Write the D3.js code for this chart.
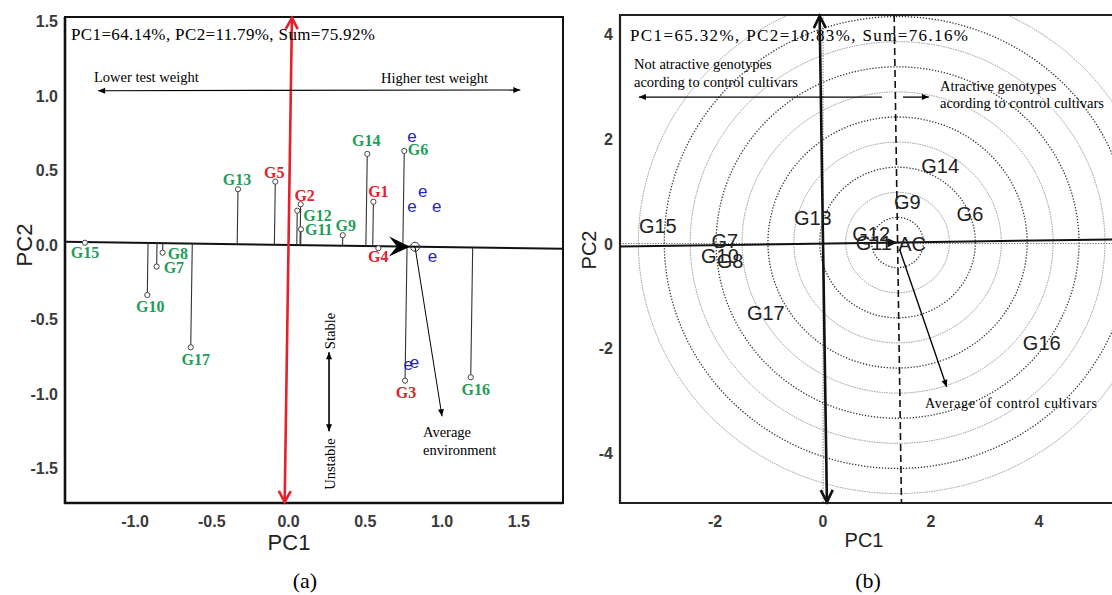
<!DOCTYPE html>
<html>
<head>
<meta charset="utf-8">
<script src="https://cdn.jsdelivr.net/npm/d3@7"></script>
<style>
  body { margin: 0; background: #fff; }
  svg  { display: block; }
</style>
</head>
<body>
<div id="chart"></div>
<script>
// ---- panel (a): mean vs stability ----
var genoA    = ["G1","G2","G3","G4","G5","G6","G7","G8","G9","G10","G11","G12","G13","G14","G15","G16","G17"];
var pc1A     = [0.553, 0.079, 0.759, 0.585, -0.086, 0.754, -0.859, -0.820, 0.353, -0.920, 0.081, 0.057, -0.329, 0.513, -1.326, 1.187, -0.637];
var pc2A     = [0.290, 0.273, -0.911, -0.022, 0.425, 0.631, -0.145, -0.052, 0.065, -0.336, 0.105, 0.230, 0.374, 0.611, 0.015, -0.888, -0.687];
var controlA = ["G1","G2","G3","G4","G5"];   // control cultivars, red labels
var envPC1   = [0.804, 0.874, 0.804, 0.965, 0.937, 0.780, 0.820];
var envPC2   = [0.724, 0.358, 0.257, 0.257, -0.079, -0.805, -0.790];
var avgEnv   = [0.824, -0.012];
var xTicksA  = [-1.0, -0.5, 0.0, 0.5, 1.0, 1.5];
var yTicksA  = [-1.5, -1.0, -0.5, 0.0, 0.5, 1.0, 1.5];

// ---- panel (b): comparison with control cultivars ----
var genoB    = ["G15","G7","G10","G8","G13","G17","G14","G9","G6","G12","G11","G16"];
var pc1B     = [-3.06, -1.82, -1.91, -1.72, -0.19, -1.06, 2.17, 1.56, 2.72, 0.89, 0.94, 4.05];
var pc2B     = [0.34, 0.04, -0.23, -0.34, 0.48, -1.32, 1.49, 0.80, 0.56, 0.19, 0.01, -1.91];
var acPoint  = [1.38, 0.02];
var ringStep = 0.48;
var ringN    = 10;
var xTicksB  = [-2, 0, 2, 4];
var yTicksB  = [-4, -2, 0, 2, 4];

var serif = "'Liberation Serif','Times New Roman',serif";
var sans  = "'Liberation Sans',Arial,sans-serif";
var green = "#1e9e58", red = "#e5202a", blue = "#2424c8";

// label placement for (a): [dx, dy, anchor] in px from the point
var labelPosA = {
	G1: [5,-5,"middle"], G2: [4,-3,"middle"], G3: [1,17,"middle"], G4: [0,14,"middle"],
	G5: [-1,-4,"middle"], G6: [3.5,4.5,"start"], G7: [7,6,"start"], G8: [5,6,"start"],
	G9: [3,-4,"middle"], G10: [3,17,"middle"], G11: [4,6,"start"], G12: [6,10,"start"],
	G13: [-1,-4,"middle"], G14: [-1,-8,"middle"], G15: [0,15,"middle"], G16: [5,18,"middle"],
	G17: [5,18,"middle"]
};

var svg = d3.select("#chart").append("svg")
	.attr("width", 1112)
	.attr("height", 595);

// draw an arrow head at (x1,y1) coming from (x0,y0)
function head(g, x0, y0, x1, y1, len, half, open, color, sw) {
	var a = Math.atan2(y1 - y0, x1 - x0);
	var c = Math.cos(a), s = Math.sin(a);
	var bx = x1 - len * c, by = y1 - len * s;
	var p1 = [bx - half * s, by + half * c], p2 = [bx + half * s, by - half * c];
	var d = "M" + p1 + "L" + x1 + "," + y1 + "L" + p2;
	if (open) {
		g.append("path").attr("d", d).attr("fill", "none")
			.attr("stroke", color).attr("stroke-width", sw || 2);
	} else {
		g.append("path").attr("d", d + "Z").attr("fill", color);
	}
}

function arrow(g, x0, y0, x1, y1, sw, both) {
	g.append("line").attr("x1", x0).attr("y1", y0).attr("x2", x1).attr("y2", y1)
		.attr("stroke", "#000").attr("stroke-width", sw);
	head(g, x0, y0, x1, y1, 7, 3, false, "#000");
	if (both) head(g, x1, y1, x0, y0, 7, 3, false, "#000");
}

/* ================= panel (a) ================= */
var xA = d3.scaleLinear().domain([-1.456, 1.788]).range([65, 563]);
var yA = d3.scaleLinear().domain([-1.732, 1.53]).range([503, 17]);
var gA = svg.append("g");

gA.append("rect").attr("x", 65).attr("y", 17).attr("width", 498).attr("height", 486)
	.attr("fill", "none").attr("stroke", "#111").attr("stroke-width", 2);
gA.append("path").attr("d", "M65,17V503H563").attr("fill", "none")
	.attr("stroke", "#111").attr("stroke-width", 2.6);

gA.selectAll(".xt").data(xTicksA).enter().append("text")
	.attr("x", function(d) { return xA(d); }).attr("y", 527)
	.attr("text-anchor", "middle").attr("font-family", sans).attr("font-size", 16)
	.attr("font-weight", "bold").attr("fill", "#3a3a3a").text(function(d) { return d.toFixed(1); });
gA.selectAll(".yt").data(yTicksA).enter().append("text")
	.attr("x", 58).attr("y", function(d) { return yA(d) + 6; })
	.attr("text-anchor", "end").attr("font-family", sans).attr("font-size", 16)
	.attr("font-weight", "bold").attr("fill", "#3a3a3a").text(function(d) { return d.toFixed(1); });

gA.append("text").attr("x", 289).attr("y", 550).attr("text-anchor", "middle")
	.attr("font-family", sans).attr("font-size", 22).attr("fill", "#222").text("PC1");
gA.append("text").attr("transform", "translate(32,245) rotate(-90)").attr("text-anchor", "middle")
	.attr("font-family", sans).attr("font-size", 22).attr("fill", "#222").text("PC2");

// average environment axis through the origin
var slope = avgEnv[1] / avgEnv[0];
var xa0 = xA.domain()[0], xa1 = xA.domain()[1];
gA.append("line")
	.attr("x1", xA(xa0)).attr("y1", yA(slope * xa0))
	.attr("x2", xA(xa1)).attr("y2", yA(slope * xa1))
	.attr("stroke", "#111").attr("stroke-width", 2);

// red ordinate, perpendicular to the axis
var ya0 = yA.domain()[0], ya1 = yA.domain()[1];
var rx0 = xA(-slope * ya1), ry0 = yA(ya1), rx1 = xA(-slope * ya0), ry1 = yA(ya0);
gA.append("line").attr("x1", rx0).attr("y1", ry0).attr("x2", rx1).attr("y2", ry1)
	.attr("stroke", red).attr("stroke-width", 2.6);
head(gA, rx1, ry1, rx0, ry0 + 1, 11, 6, true, red, 2.6);
head(gA, rx0, ry0, rx1, ry1 - 1, 11, 6, true, red, 2.6);

// projection of genotypes on the axis
var len = Math.sqrt(avgEnv[0] * avgEnv[0] + avgEnv[1] * avgEnv[1]);
var ux = avgEnv[0] / len, uy = avgEnv[1] / len;
genoA.forEach(function(g, i) {
	var t = pc1A[i] * ux + pc2A[i] * uy;
	gA.append("line")
		.attr("x1", xA(pc1A[i])).attr("y1", yA(pc2A[i]))
		.attr("x2", xA(t * ux)).attr("y2", yA(t * uy))
		.attr("stroke", "#333").attr("stroke-width", 1.1);
});
genoA.forEach(function(g, i) {
	gA.append("circle").attr("cx", xA(pc1A[i])).attr("cy", yA(pc2A[i])).attr("r", 2.6)
		.attr("fill", "#fff").attr("stroke", "#444").attr("stroke-width", 1);
	var p = labelPosA[g];
	gA.append("text")
		.attr("x", xA(pc1A[i]) + p[0]).attr("y", yA(pc2A[i]) + p[1])
		.attr("text-anchor", p[2]).attr("font-family", serif).attr("font-weight", "bold")
		.attr("font-size", 16).attr("fill", controlA.indexOf(g) >= 0 ? red : green)
		.text(g);
});

// environments
envPC1.forEach(function(v, i) {
	gA.append("text").attr("x", xA(v)).attr("y", yA(envPC2[i]) + 5)
		.attr("text-anchor", "middle").attr("font-family", sans).attr("font-size", 17)
		.attr("fill", blue).text("e");
});

// average environment marker
var aex = xA(avgEnv[0]), aey = yA(avgEnv[1]);
gA.append("path")
	.attr("d", "M0,0L-21,-10L-13,0L-21,10Z")
	.attr("transform", "translate(" + (aex - 5) + "," + aey + ") rotate(" + (Math.atan2(yA(avgEnv[1]) - yA(0), xA(avgEnv[0]) - xA(0)) * 180 / Math.PI) + ")")
	.attr("fill", "#000");
gA.append("circle").attr("cx", aex).attr("cy", aey).attr("r", 4.5)
	.attr("fill", "none").attr("stroke", "#333").attr("stroke-width", 1);
arrow(gA, aex, aey, xA(1.0), yA(-1.15), 1, false);
gA.append("text").attr("x", 423).attr("y", 437).attr("font-family", serif).attr("font-size", 14.5).text("Average");
gA.append("text").attr("x", 423).attr("y", 455).attr("font-family", serif).attr("font-size", 14.5).text("environment");

// test weight arrow
arrow(gA, xA(-1.24), yA(1.035), xA(1.51), yA(1.04), 1.2, true);
gA.append("text").attr("x", 94).attr("y", 82).attr("font-family", serif).attr("font-size", 14.5).text("Lower test weight");
gA.append("text").attr("x", 381).attr("y", 83).attr("font-family", serif).attr("font-size", 14.5).text("Higher test weight");

// stability arrow
arrow(gA, xA(0.264), yA(-0.72), xA(0.264), yA(-1.25), 1.6, true);
gA.append("text").attr("transform", "translate(335,331) rotate(-90)").attr("text-anchor", "middle")
	.attr("font-family", serif).attr("font-size", 14.5).text("Stable");
gA.append("text").attr("transform", "translate(335,464) rotate(-90)").attr("text-anchor", "middle")
	.attr("font-family", serif).attr("font-size", 14.5).text("Unstable");

gA.append("text").attr("x", 71).attr("y", 40).attr("font-family", serif).attr("font-size", 17)
	.attr("textLength", 304).attr("lengthAdjust", "spacing")
	.text("PC1=64.14%, PC2=11.79%, Sum=75.92%");

svg.append("text").attr("x", 305).attr("y", 588).attr("text-anchor", "middle")
	.attr("font-family", serif).attr("font-size", 22).text("(a)");

/* ================= panel (b) ================= */
var xB = d3.scaleLinear().domain([-3.76, 5.36]).range([620, 1112.5]);
var yB = d3.scaleLinear().domain([-4.96, 4.37]).range([503, 15]);
var gB = svg.append("g");

svg.append("clipPath").attr("id", "clipB").append("rect")
	.attr("x", 620).attr("y", 15).attr("width", 500).attr("height", 488);

var rings = gB.append("g").attr("clip-path", "url(#clipB)");
d3.range(1, ringN + 1).forEach(function(k) {
	rings.append("ellipse")
		.attr("cx", xB(acPoint[0])).attr("cy", yB(acPoint[1]))
		.attr("rx", xB(k * ringStep) - xB(0)).attr("ry", yB(0) - yB(k * ringStep))
		.attr("fill", "none")
		.attr("stroke", k % 2 ? "#333" : "#8a8a8a")
		.attr("stroke-width", k % 2 ? 1.3 : 0.9)
		.attr("stroke-dasharray", k % 2 ? "1.3,1.7" : "1.5,1");
});
// dotted reference lines
rings.append("line").attr("x1", 620).attr("x2", 1112).attr("y1", yB(0)).attr("y2", yB(0))
	.attr("stroke", "#666").attr("stroke-dasharray", "1.2,1.5");
rings.append("line").attr("x1", xB(0)).attr("x2", xB(0)).attr("y1", 15).attr("y2", 503)
	.attr("stroke", "#666").attr("stroke-dasharray", "1.2,1.5");

gB.append("path").attr("d", "M1114,15H620V503H1114").attr("fill", "none")
	.attr("stroke", "#222").attr("stroke-width", 2.2);

gB.selectAll(".xt").data(xTicksB).enter().append("text")
	.attr("x", function(d) { return xB(d); }).attr("y", 527)
	.attr("text-anchor", "middle").attr("font-family", sans).attr("font-size", 16)
	.attr("font-weight", "bold").attr("fill", "#3a3a3a").text(function(d) { return String(d); });
gB.selectAll(".yt").data(yTicksB).enter().append("text")
	.attr("x", 613).attr("y", function(d) { return yB(d) + 6; })
	.attr("text-anchor", "end").attr("font-family", sans).attr("font-size", 16)
	.attr("font-weight", "bold").attr("fill", "#3a3a3a").text(function(d) { return String(d); });

gB.append("text").attr("x", 864).attr("y", 547).attr("text-anchor", "middle")
	.attr("font-family", sans).attr("font-size", 20).attr("fill", "#222").text("PC1");
gB.append("text").attr("transform", "translate(596,250) rotate(-90)").attr("text-anchor", "middle")
	.attr("font-family", sans).attr("font-size", 20).attr("fill", "#222").text("PC2");

// ATC abscissa through origin and AC
var sB = acPoint[1] / acPoint[0];
var xb0 = xB.domain()[0], xb1 = xB.domain()[1];
gB.append("line")
	.attr("x1", xB(xb0)).attr("y1", yB(sB * xb0))
	.attr("x2", xB(xb1)).attr("y2", yB(sB * xb1))
	.attr("stroke", "#111").attr("stroke-width", 2);
head(gB, xB(0), yB(0), xB(acPoint[0]), yB(acPoint[1]), 10, 4.5, false, "#111");

// ATC ordinate, perpendicular, through origin
var yb0 = yB.domain()[0], yb1 = yB.domain()[1];
var ox0 = xB(-sB * yb1), oy0 = yB(yb1), ox1 = xB(-sB * yb0), oy1 = yB(yb0);
gB.append("line").attr("x1", ox0).attr("y1", oy0).attr("x2", ox1).attr("y2", oy1)
	.attr("stroke", "#111").attr("stroke-width", 2.6);
head(gB, ox1, oy1, ox0, oy0 + 1, 12, 6, true, "#111", 2.6);
head(gB, ox0, oy0, ox1, oy1 - 1, 12, 6, true, "#111", 2.6);

// dashed perpendicular through AC
gB.append("line")
	.attr("x1", xB(acPoint[0] - sB * (yb1 - acPoint[1]))).attr("y1", yB(yb1))
	.attr("x2", xB(acPoint[0] - sB * (yb0 - acPoint[1]))).attr("y2", yB(yb0))
	.attr("stroke", "#111").attr("stroke-width", 1.6).attr("stroke-dasharray", "7,4");

genoB.forEach(function(g, i) {
	gB.append("text").attr("x", xB(pc1B[i])).attr("y", yB(pc2B[i]) + 7)
		.attr("text-anchor", "middle").attr("font-family", sans).attr("font-size", 20)
		.attr("fill", "#222").text(g);
});
gB.append("text").attr("x", xB(1.65)).attr("y", yB(0.0) + 7)
	.attr("text-anchor", "middle").attr("font-family", sans).attr("font-size", 20)
	.attr("fill", "#222").text("AC");

arrow(gB, xB(1.42), yB(-0.12), xB(2.29), yB(-2.74), 1.4, false);
gB.append("text").attr("x", 925).attr("y", 408).attr("font-family", serif).attr("font-size", 14)
	.attr("textLength", 172).attr("lengthAdjust", "spacing").text("Average  of control cultivars");

arrow(gB, xB(1.09), yB(2.80), xB(-3.41), yB(2.80), 1.3, false);
arrow(gB, xB(1.48), yB(2.80), xB(1.96), yB(2.80), 1.3, false);
gB.append("text").attr("x", 634).attr("y", 69).attr("font-family", serif).attr("font-size", 14.5).text("Not atractive  genotypes");
gB.append("text").attr("x", 634).attr("y", 87).attr("font-family", serif).attr("font-size", 14.5).text("acording to control cultivars");
gB.append("text").attr("x", 940).attr("y", 91).attr("font-family", serif).attr("font-size", 14.5).text("Atractive  genotypes");
gB.append("text").attr("x", 940).attr("y", 108).attr("font-family", serif).attr("font-size", 14.5).text("acording to control cultivars");

gB.append("text").attr("x", 630).attr("y", 41).attr("font-family", serif).attr("font-size", 17)
	.attr("textLength", 338).attr("lengthAdjust", "spacing")
	.text("PC1=65.32%, PC2=10.83%, Sum=76.16%");

svg.append("text").attr("x", 868).attr("y", 588).attr("text-anchor", "middle")
	.attr("font-family", serif).attr("font-size", 22).text("(b)");
</script>
</body>
</html>
